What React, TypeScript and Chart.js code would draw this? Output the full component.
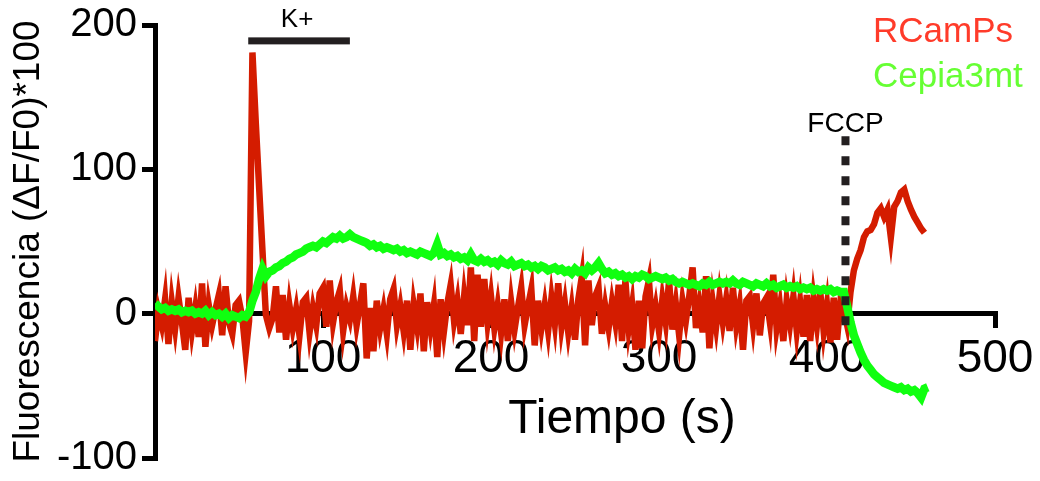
import React, { useEffect, useRef } from "react";
import { Chart, registerables } from "chart.js";

Chart.register(...registerables);

const FONT = '"Liberation Sans", Arial, Helvetica, sans-serif';

// Time (s)
const times = [
  0, 2, 4, 6, 8, 10, 12, 14, 16, 18,
  20, 22, 24, 26, 28, 30, 32, 34, 36, 38,
  40, 42, 44, 46, 48, 50, 52, 54, 56, 58,
  60, 62, 64, 66, 68, 70, 72, 74, 76, 78,
  80, 82, 84, 86, 88, 90, 92, 94, 96, 98,
  100, 102, 104, 106, 108, 110, 112, 114, 116, 118,
  120, 122, 124, 126, 128, 130, 132, 134, 136, 138,
  140, 142, 144, 146, 148, 150, 152, 154, 156, 158,
  160, 162, 164, 166, 168, 170, 172, 174, 176, 178,
  180, 182, 184, 186, 188, 190, 192, 194, 196, 198,
  200, 202, 204, 206, 208, 210, 212, 214, 216, 218,
  220, 222, 224, 226, 228, 230, 232, 234, 236, 238,
  240, 242, 244, 246, 248, 250, 252, 254, 256, 258,
  260, 262, 264, 266, 268, 270, 272, 274, 276, 278,
  280, 282, 284, 286, 288, 290, 292, 294, 296, 298,
  300, 302, 304, 306, 308, 310, 312, 314, 316, 318,
  320, 322, 324, 326, 328, 330, 332, 334, 336, 338,
  340, 342, 344, 346, 348, 350, 352, 354, 356, 358,
  360, 362, 364, 366, 368, 370, 372, 374, 376, 378,
  380, 382, 384, 386, 388, 390, 392, 394, 396, 398,
  400, 402, 404, 406, 408, 410, 412, 414, 416, 418,
  420, 422, 424, 426, 428, 430, 432, 434, 436, 438,
  440, 442, 444, 446, 448, 450, 452, 454, 456, 458,
  460,
];

// RCamPs (ΔF/F0)*100
const rcampsValues = [
  -19, 2, -8, 10, -21, 8, -10, 11, -6, -25,
  11, -12, 4, -16, 21, -23, 6, -8, 3, 13,
  -15, 19, -6, -14, 6, 9, -3, -27, -5, 181,
  132, 87, 43, -1, -10, -3, 19, -13, 13, -18,
  6, -10, 3, -15, 8, 11, -13, 4, -8, 14,
  18, -9, 23, -6, 8, 16, -12, 5, -4, 12,
  -8, 6, 21, -31, 4, -26, 9, -10, 3, -14,
  10, 17, -8, 5, -12, 9, -25, 6, -9, 14,
  -26, 8, -10, 6, -30, 10, -12, 7, 20, -5,
  9, -14, 12, -8, 32, -19, 27, -9, 24, -6,
  12, -10, 6, -13, 10, -19, 8, -11, 4, 18,
  -8, 5, 17, -22, 9, -10, 6, -12, 11, -7,
  21, -9, 7, -13, 4, -18, 10, 25, -22, 23,
  -8, 12, 18, -14, 5, -10, 8, -6, 20, -19,
  23, -10, 6, -25, 9, -24, 12, 23, -8, 5,
  -12, 10, -6, 23, -11, 7, -15, 9, -5, 12,
  32, -10, 6, -13, 26, -24, 8, -9, 12, -6,
  10, -12, 18, -8, 6, -25, 9, 12, -8, 14,
  -15, 7, 11, -6, 27, -10, 5, -19, 9, -7,
  12, -12, 8, -16, 13, -19, 10, -8, 15, -12,
  6, -20, 11, -18, 8, 3, -8, 15, 30, 38,
  44, 53, 57, 58, 62, 70, 73, 67, 72, 53,
  74, 78, 84, 86, 78, 72, 67, 63, 59, 56,
];

// Cepia3mt (ΔF/F0)*100
const cepiaValues = [
  7, 5, 3, 4, 2, 3, 2, 3, 1, 2,
  1, 2, 0, 1, 0, 2, -1, 1, -1, 0,
  -2, 0, -3, -1, -2, -3, -1, -2, 1, 9,
  15, 24, 31, 26, 29, 30, 32, 33, 35, 36,
  38, 39, 41, 42, 43, 45, 46, 47, 46, 48,
  50, 49, 51, 53, 52, 54, 52, 53, 55, 53,
  52, 51, 50, 49, 47, 48, 46, 47, 45, 46,
  45, 44, 45, 43, 44, 42, 43, 42, 41, 43,
  42, 41, 40, 42, 48, 41, 42, 40, 41, 39,
  40, 38, 39, 37, 41, 37, 36, 38, 36, 37,
  35, 36, 34, 37, 35, 34, 36, 33, 34, 35,
  33, 34, 32, 33, 31, 33, 32, 30, 31, 32,
  30, 31, 29, 30, 28, 31, 29, 30, 28, 32,
  30, 32, 35, 31, 28, 29, 27, 28, 26, 27,
  25, 26, 24, 26, 25, 27, 26, 24, 25, 26,
  25, 24, 25, 23, 24, 22, 21, 22, 21, 20,
  21, 20, 19, 21, 20, 22, 20, 21, 22, 21,
  22, 21, 23, 21, 20, 22, 21, 20, 19, 21,
  20, 19, 21, 19, 20, 18, 19, 20, 18, 19,
  18, 19, 17, 18, 17, 18, 16, 17, 16, 17,
  16, 17, 15, 16, 15, 15, 5, -6, -15, -21,
  -27, -32, -36, -39, -42, -44, -46, -48, -49, -50,
  -51, -52, -51, -53, -52, -54, -53, -55, -58, -52,
  -51,
];

const xTicks = [0, 100, 200, 300, 400, 500];
const yTicks = [-100, 0, 100, 200];

// Stimulus markers (data units)
const kBar = { start: 55.5, end: 116, level: 189 };
const fccp = { time: 411, top: 123, bottom: -11 };

const annotationPlugin = {
  id: "annotations",
  afterDatasetsDraw(chart: any) {
    const { ctx, scales } = chart;
    const x = scales.x;
    const y = scales.y;
    ctx.save();
    // K+ bar
    ctx.fillStyle = "#231f20";
    const kx1 = x.getPixelForValue(kBar.start);
    const kx2 = x.getPixelForValue(kBar.end);
    const ky = y.getPixelForValue(kBar.level);
    ctx.fillRect(kx1, ky - 3.5, kx2 - kx1, 7);
    // FCCP dashed line
    const fx = x.getPixelForValue(fccp.time);
    ctx.strokeStyle = "#231f20";
    ctx.lineWidth = 8;
    ctx.setLineDash([9, 11]);
    ctx.beginPath();
    ctx.moveTo(fx, y.getPixelForValue(fccp.top));
    ctx.lineTo(fx, y.getPixelForValue(fccp.bottom));
    ctx.stroke();
    ctx.setLineDash([]);

    ctx.textBaseline = "alphabetic";
    // K+ label
    ctx.fillStyle = "#000";
    ctx.textAlign = "center";
    ctx.font = `26px ${FONT}`;
    ctx.fillText("K+", (kx1 + kx2) / 2 - 2, 27);
    // FCCP label
    ctx.font = `28px ${FONT}`;
    ctx.fillText("FCCP", fx, 132);
    // Legend texts
    ctx.textAlign = "left";
    ctx.font = `35px ${FONT}`;
    ctx.fillStyle = "#ff3b2a";
    ctx.fillText("RCamPs", 873, 42);
    ctx.fillStyle = "#66ff33";
    ctx.fillText("Cepia3mt", 873, 87);
    // X title
    ctx.fillStyle = "#000";
    ctx.textAlign = "center";
    ctx.font = `48px ${FONT}`;
    ctx.fillText("Tiempo (s)", 622, 433);
    ctx.restore();
  },
};

export default function App() {
  const canvasRef = useRef<HTMLCanvasElement | null>(null);

  useEffect(() => {
    const canvas = canvasRef.current;
    if (!canvas) return;
    Chart.defaults.font.family = FONT;
    const chart = new Chart(canvas, {
      type: "line",
      data: {
        datasets: [
          {
            label: "Cepia3mt",
            data: cepiaValues.map((v, i) => ({ x: times[i], y: v })),
            borderColor: "#10ff10",
            borderWidth: 8.5,
            pointRadius: 0,
            tension: 0,
            borderJoinStyle: "miter",
            order: 0,
          },
          {
            label: "RCamPs",
            data: rcampsValues.map((v, i) => ({ x: times[i], y: v })),
            borderColor: "#d41c00",
            borderWidth: 6.5,
            pointRadius: 0,
            tension: 0,
            borderJoinStyle: "miter",
            order: 1,
          },
        ],
      },
      options: {
        animation: false,
        responsive: false,
        devicePixelRatio: 1,
        layout: { padding: { left: 0, right: 45, top: 25, bottom: 19.5 } },
        plugins: {
          legend: { display: false },
          tooltip: { enabled: false },
        },
        scales: {
          x: {
            type: "linear",
            min: 0,
            max: 500,
            position: { y: 0 } as any,
            afterBuildTicks: (s: any) => {
              s.ticks = xTicks.map((v) => ({ value: v }));
            },
            grid: {
              display: true,
              drawOnChartArea: false,
              drawTicks: true,
              tickLength: 12,
              lineWidth: 5,
              color: "#000",
            },
            border: { display: true, width: 5, color: "#000" },
            ticks: {
              font: { size: 46, lineHeight: 1.2 },
              color: "#000",
              padding: 6,
              maxRotation: 0,
              autoSkip: false,
              callback: (v: any) => (v === 0 ? "" : String(v)),
            },
          },
          y: {
            type: "linear",
            min: -100,
            max: 200,
            afterBuildTicks: (s: any) => {
              s.ticks = yTicks.map((v) => ({ value: v }));
            },
            afterFit: (s: any) => {
              s.width = 155;
            },
            grid: {
              display: true,
              drawOnChartArea: false,
              drawTicks: true,
              tickLength: 13,
              lineWidth: 5,
              color: "#000",
            },
            border: { display: true, width: 5, color: "#000" },
            ticks: {
              font: { size: 40, lineHeight: 0.9 },
              color: "#000",
              padding: 5,
            },
            title: {
              display: true,
              text: "Fluorescencia (ΔF/F0)*100",
              font: { size: 37 },
              color: "#000",
              padding: { top: 7, bottom: 0 },
            },
          },
        },
      },
      plugins: [annotationPlugin],
    });
    return () => chart.destroy();
  }, []);

  return (
    <div style={{ position: "absolute", left: 0, top: 0, width: 1040, height: 481 }}>
      <canvas ref={canvasRef} width={1040} height={481} style={{ display: "block" }} />
    </div>
  );
}
